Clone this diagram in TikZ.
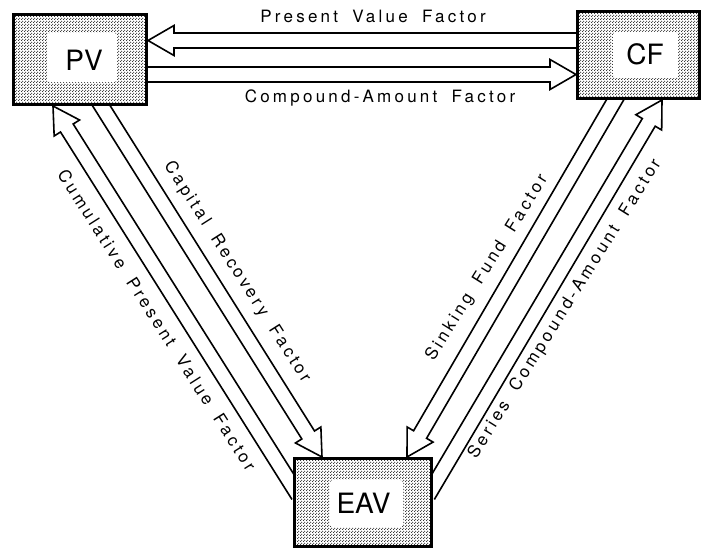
\documentclass[tikz,border=0pt]{standalone}
\usepackage{fontspec}
\setmainfont{TeX Gyre Heros}
\newfontfamily\lblfont[LetterSpace=19,WordSpace=1.8]{TeX Gyre Heros}
\usetikzlibrary{calc,patterns.meta}
\pgfdeclarelayer{background}
\pgfsetlayers{background,main}

% fine stipple used for the shaded boxes
\tikzdeclarepattern{
  name=stipple,
  type=uncolored,
  bottom left={(0pt,0pt)},
  top right={(3pt,3pt)},
  tile size={(3pt,3pt)},
  code={
    \fill (0.75pt,0.75pt) circle [radius=0.75pt];
    \fill (2.25pt,2.25pt) circle [radius=0.75pt];
  }
}

% hollow block arrow from #1 (tail) to #2 (tip)
\newcommand\hollowarrow[2]{%
  \coordinate (ha-t) at ($(#1)!-10pt!(#2)$);
  \coordinate (ha-b) at ($(#2)!26pt!(#1)$);
  \draw[arrowline]
    ($(ha-t)!7.5pt!90:(#2)$) --
    ($(ha-b)!7.5pt!-90:(ha-t)$) --
    ($(ha-b)!15pt!-90:(ha-t)$) --
    (#2) --
    ($(ha-b)!15pt!90:(ha-t)$) --
    ($(ha-b)!7.5pt!90:(ha-t)$) --
    ($(ha-t)!7.5pt!-90:(#2)$);
}

\begin{document}
\begin{tikzpicture}[x=1pt,y=-1pt,
  factorbox/.style={draw, line width=3pt, inner sep=0pt,
    preaction={fill=white}, pattern=stipple, pattern color=black!85},
  pad/.style={fill=white, inner sep=0pt, rounded corners=3pt},
  boxtext/.style={font=\fontsize{28}{30}\selectfont, inner sep=0pt},
  lbl/.style={font=\lblfont\fontsize{17}{20}\selectfont, inner sep=0pt},
  arrowline/.style={line width=1.6pt, line join=miter}]
\useasboundingbox (0,0) rectangle (704,551);

% the three shaded boxes
\node[factorbox, minimum width=133pt, minimum height=90pt] (pv)  at (80,59.5)   {};
\node[factorbox, minimum width=122pt, minimum height=87pt] (cf)  at (638.5,55)  {};
\node[factorbox, minimum width=137pt, minimum height=88pt] (eav) at (363,502.5) {};

\node[pad, minimum width=70pt, minimum height=49pt] (pvpad)  at (82,57.5)    {};
\node[pad, minimum width=65pt, minimum height=46pt] (cfpad)  at (645.5,55)   {};
\node[pad, minimum width=73pt, minimum height=47pt] (eavpad) at (366.5,503.5) {};

\node[boxtext] (pvtext)  at (84,60)      {PV};
\node[boxtext] (cftext)  at (645,54)     {CF};
\node[boxtext] (eavtext) at (363.5,503.5) {EAV};

% reference rows and columns for the arrow ends
\coordinate (rowtop) at (0,40.5);
\coordinate (rowbot) at (0,74.5);
\coordinate (rowlow) at (0,487);

\coordinate (pvf-tip)  at (pv.east |- rowtop);
\coordinate (pvf-tail) at (cf.west |- rowtop);
\coordinate (caf-tail) at (pv.east |- rowbot);
\coordinate (caf-tip)  at (cf.west |- rowbot);

\coordinate (crf-tail) at (pv.south -| 101.5,0);
\coordinate (crf-tip)  at (eav.north -| 322,0);
\coordinate (cpv-tail) at (eav.west |- rowlow);
\coordinate (cpv-tip)  at (pv.south -| 53,0);

\coordinate (sff-tail) at (cf.south -| 615,0);
\coordinate (sff-tip)  at (eav.north -| 407,0);
\coordinate (sca-tail) at (eav.east |- rowlow);
\coordinate (sca-tip)  at (cf.south -| 662,0);

\begin{pgfonlayer}{background}
  \hollowarrow{pvf-tail}{pvf-tip}
  \hollowarrow{caf-tail}{caf-tip}
  \hollowarrow{crf-tail}{crf-tip}
  \hollowarrow{cpv-tail}{cpv-tip}
  \hollowarrow{sff-tail}{sff-tip}
  \hollowarrow{sca-tail}{sca-tip}
\end{pgfonlayer}

% factor names
\node[lbl, anchor=base] (pvflabel) at (373,23)    {Present Value Factor};
\node[lbl, anchor=base] (caflabel) at (380,102.5) {Compound-Amount Factor};
\node[lbl, rotate=-57.5] (crflabel) at (237,272)  {Capital Recovery Factor};
\node[lbl, rotate=-57.5] (cpvlabel) at (157,320)  {Cumulative Present Value Factor};
\node[lbl, rotate=58] (sfflabel) at (487,268)     {Sinking Fund Factor};
\node[lbl, rotate=58] (scalabel) at (565,309)     {Series Compound-Amount Factor};
\end{tikzpicture}
\end{document}
